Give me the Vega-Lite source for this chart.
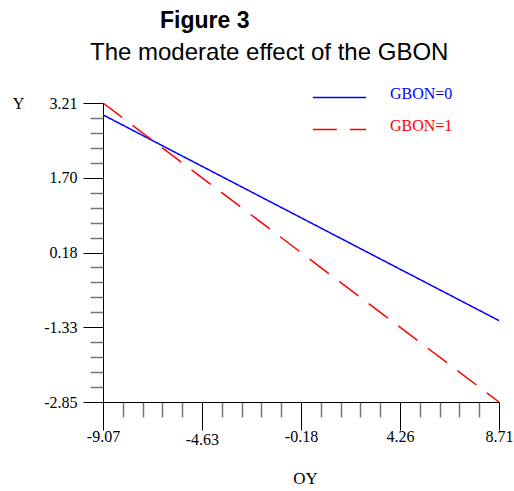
{
  "$schema": "https://vega.github.io/schema/vega-lite/v6.json",
  "autosize": "pad",
  "padding": {"left": 12, "top": 10, "right": 0, "bottom": 0},
  "background": "white",
  "bounds": "flush",
  "title": {"text": "Figure 3", "anchor": "start", "frame": "group", "font": "Liberation Sans", "fontSize": 23, "fontWeight": "bold", "color": "black", "dx": 57, "offset": 8},
  "vconcat": [
    {
      "width": 396,
      "height": 299,
      "title": {"text": "The moderate effect of the GBON", "anchor": "start", "frame": "group", "font": "Liberation Sans", "fontSize": 24, "fontWeight": "normal", "color": "black", "dx": -13, "offset": 30},
      "data": {"values": [
        {"OY": -9.07, "Y": 2.97, "group": "GBON=0"},
        {"OY": 8.71, "Y": -1.20, "group": "GBON=0"},
        {"OY": -9.07, "Y": 3.21, "group": "GBON=1"},
        {"OY": 8.71, "Y": -2.85, "group": "GBON=1"}
      ]},
      "mark": {"type": "line", "strokeWidth": 1.5, "clip": false},
      "encoding": {
        "x": {
          "field": "OY", "type": "quantitative",
          "scale": {"domain": [-9.07, 8.71], "nice": false, "zero": false},
          "axis": {
            "title": "OY", "titleFont": "Liberation Serif", "titleFontSize": 17, "titleFontWeight": "normal", "titleColor": "black",
            "titleX": 202, "titleY": 81, "titleBaseline": "alphabetic", "titleAlign": "center",
            "values": [-9.07, -8.18, -7.29, -6.40, -5.52, -4.63, -3.74, -2.85, -1.96, -1.07, -0.18, 0.71, 1.60, 2.48, 3.37, 4.26, 5.15, 6.04, 6.93, 7.82, 8.71],
            "labelExpr": "indexof([-9.07, -4.63, -0.18, 4.26, 8.71], datum.value) >= 0 ? replace(format(datum.value, '.2f'), '\u2212', '-') : ''",
            "labelFont": "Liberation Serif", "labelFontSize": 16, "labelColor": "black",
            "labelPadding": {"condition": {"test": "datum.value == -4.63", "value": 1}, "value": -2},
            "labelOverlap": false, "labelFlush": false, "labelBound": false,
            "grid": false, "domainColor": "black", "domainWidth": 1,
            "tickSize": {"condition": {"test": "indexof([-9.07, -4.63, -0.18, 4.26, 8.71], datum.value) >= 0", "value": 28}, "value": 15},
            "tickColor": {"condition": {"test": "indexof([-9.07, -4.63, -0.18, 4.26, 8.71], datum.value) >= 0", "value": "black"}, "value": "#777777"},
            "tickWidth": {"condition": {"test": "indexof([-9.07, -4.63, -0.18, 4.26, 8.71], datum.value) >= 0", "value": 1}, "value": 1.5}
          }
        },
        "y": {
          "field": "Y", "type": "quantitative",
          "scale": {"domain": [-2.85, 3.21], "nice": false, "zero": false},
          "axis": {
            "title": "Y", "titleFont": "Liberation Serif", "titleFontSize": 16, "titleFontWeight": "normal", "titleColor": "black",
            "titleAngle": 0, "titleX": -85, "titleY": 5, "titleBaseline": "alphabetic", "titleAlign": "center",
            "values": [3.21, 2.907, 2.604, 2.301, 1.998, 1.70, 1.392, 1.089, 0.786, 0.483, 0.18, -0.123, -0.426, -0.729, -1.032, -1.33, -1.638, -1.941, -2.244, -2.547, -2.85],
            "labelExpr": "indexof([3.21, 1.70, 0.18, -1.33, -2.85], datum.value) >= 0 ? replace(format(datum.value, '.2f'), '\u2212', '-') : ''",
            "labelFont": "Liberation Serif", "labelFontSize": 16, "labelColor": "black",
            "labelPadding": 6, "labelOverlap": false, "labelFlush": false, "labelBound": false,
            "grid": false, "domainColor": "black", "domainWidth": 1,
            "tickSize": {"condition": {"test": "indexof([3.21, 1.70, 0.18, -1.33, -2.85], datum.value) >= 0", "value": 20}, "value": 13},
            "tickColor": {"condition": {"test": "indexof([3.21, 1.70, 0.18, -1.33, -2.85], datum.value) >= 0", "value": "black"}, "value": "#777777"},
            "tickWidth": {"condition": {"test": "indexof([3.21, 1.70, 0.18, -1.33, -2.85], datum.value) >= 0", "value": 1}, "value": 1.5}
          }
        },
        "color": {
          "field": "group", "type": "nominal",
          "scale": {"domain": ["GBON=0", "GBON=1"], "range": ["#0000ff", "#ff0000"]},
          "legend": {
            "title": null, "orient": "none", "legendX": 209, "legendY": -33,
            "symbolType": "stroke", "symbolSize": 2841, "symbolStrokeWidth": 1.5,
            "labelFont": "Liberation Serif", "labelFontSize": 16, "labelOffset": 23,
            "rowPadding": -33, "padding": 0,
            "encode": {"labels": {"update": {"dy": {"value": -4}, "fill": {"signal": "datum.label == 'GBON=0' ? '#0000ff' : '#ff0000'"}}}}
          }
        },
        "strokeDash": {
          "field": "group", "type": "nominal",
          "scale": {"domain": ["GBON=0", "GBON=1"], "range": [[1, 0], [24, 13]]},
          "legend": {
            "title": null, "orient": "none", "legendX": 209, "legendY": -33,
            "symbolType": "stroke", "symbolSize": 2841, "symbolStrokeWidth": 1.5,
            "labelFont": "Liberation Serif", "labelFontSize": 16, "labelOffset": 23,
            "rowPadding": -33, "padding": 0,
            "encode": {"labels": {"update": {"dy": {"value": -4}, "fill": {"signal": "datum.label == 'GBON=0' ? '#0000ff' : '#ff0000'"}}}}
          }
        }
      }
    }
  ],
  "config": {"view": {"stroke": null}}
}
